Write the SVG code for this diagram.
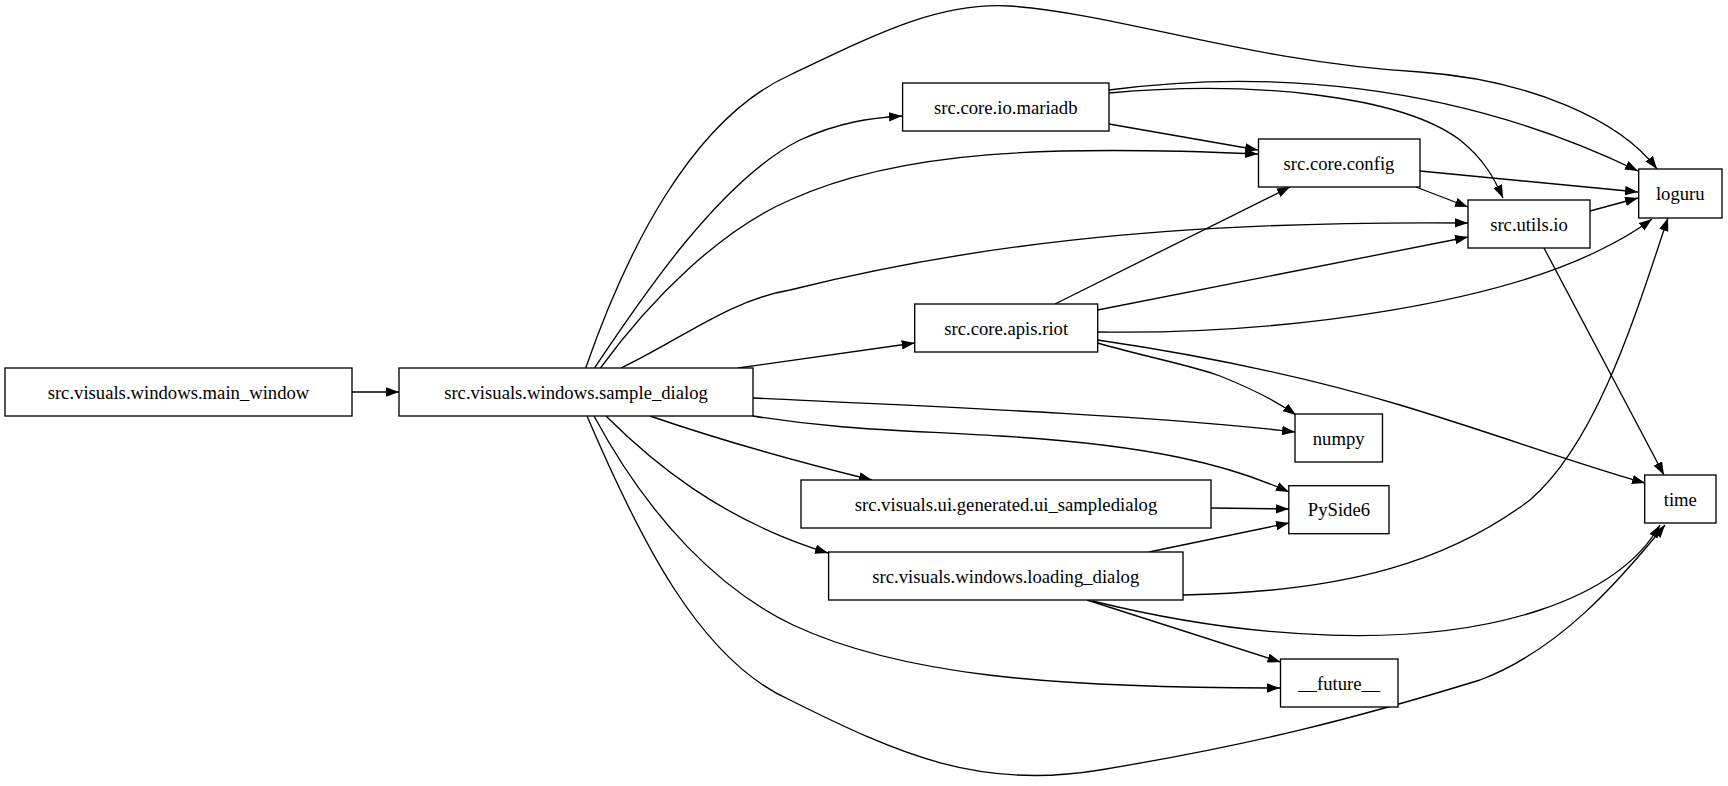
<svg xmlns="http://www.w3.org/2000/svg" width="1728" height="786" viewBox="0 0 1728 786">
<style>
.n rect{fill:#fff;stroke:#000;stroke-width:1.33}
.n text{font-family:"Liberation Serif",serif;font-size:18.67px;text-anchor:middle;dominant-baseline:central;fill:#000}
#edges path{fill:none;stroke:#000;stroke-width:1.33;marker-end:url(#a)}
</style>
<defs><marker id="a" markerUnits="userSpaceOnUse" markerWidth="14" markerHeight="10" refX="13" refY="4.7" orient="auto"><path d="M0,0 L13,4.7 L0,9.4 z" fill="#000"/></marker></defs>
<rect width="1728" height="786" fill="#fff"/>
<g id="edges">
<path d="M352,392 L399,392"/>
<path d="M585.7,368 C625,255 690,120 790,75 C880,32 940,2 1010,6 C1120,14 1250,62 1420,72 C1530,80 1620,120 1657,169"/>
<path d="M594.5,368 C640,300 720,180 800,140 C840,122 870,118 902,116"/>
<path d="M600.5,368 C650,300 720,230 790,200 C900,150 1050,145 1258,154"/>
<path d="M621,368 C680,340 730,300 790,290 C950,250 1150,220 1468,223"/>
<path d="M738,368 L914.7,343"/>
<path d="M753,398 C900,405 1150,415 1295,432"/>
<path d="M753,416 C840,430 900,430 1000,436 C1150,445 1230,465 1289,492"/>
<path d="M650,416 C720,440 790,460 872,480"/>
<path d="M606,416 C650,460 720,520 828,553"/>
<path d="M594,416 C650,520 720,590 793,625 C900,675 1050,688 1280,688"/>
<path d="M587,416 C640,540 700,660 790,700 C900,755 980,790 1100,770 C1250,745 1350,720 1480,680 C1560,650 1620,580 1665,525"/>
<path d="M1109,90 C1260,70 1450,80 1638,171"/>
<path d="M1109,93 C1250,80 1400,95 1460,140 C1485,160 1495,180 1503,198"/>
<path d="M1109,124 L1258,150"/>
<path d="M1420,171 L1638,192"/>
<path d="M1416,187 L1468,207"/>
<path d="M1590,211 L1638,198"/>
<path d="M1544,248 L1664,475"/>
<path d="M1055,304 L1290,187"/>
<path d="M1097.6,310 L1468,237"/>
<path d="M1097.6,332 C1300,335 1500,300 1600,250 C1625,238 1640,228 1652,219"/>
<path d="M1097.6,343 C1150,358 1190,365 1220,376 C1250,388 1275,400 1296,415"/>
<path d="M1097.6,340 C1200,355 1300,375 1400,405 C1490,432 1580,465 1645,483"/>
<path d="M1211,508 L1289,509"/>
<path d="M1149,552 L1289,523"/>
<path d="M1183,595 C1350,592 1450,560 1530,500 C1600,440 1640,300 1668,218"/>
<path d="M1092.6,601 C1250,640 1420,650 1540,610 C1600,590 1640,560 1660,525"/>
<path d="M1087,600 L1280.5,662"/>
</g>
<g id="main_window" class="n"><rect x="5" y="368" width="347" height="48"/><text x="178.5" y="392">src.visuals.windows.main_window</text></g>
<g id="sample_dialog" class="n"><rect x="399" y="368" width="354" height="48"/><text x="576" y="392">src.visuals.windows.sample_dialog</text></g>
<g id="mariadb" class="n"><rect x="902.6" y="83" width="206.4" height="48"/><text x="1005.8" y="107">src.core.io.mariadb</text></g>
<g id="config" class="n"><rect x="1258.5" y="139" width="161.5" height="48"/><text x="1339" y="163">src.core.config</text></g>
<g id="utils_io" class="n"><rect x="1468" y="200" width="122" height="48"/><text x="1529" y="224">src.utils.io</text></g>
<g id="loguru" class="n"><rect x="1638.7" y="169" width="83.3" height="49"/><text x="1680.3" y="193.5">loguru</text></g>
<g id="riot" class="n"><rect x="914.7" y="304" width="183" height="48"/><text x="1006.2" y="328">src.core.apis.riot</text></g>
<g id="numpy" class="n"><rect x="1295" y="414" width="87.5" height="48"/><text x="1338.7" y="438">numpy</text></g>
<g id="pyside6" class="n"><rect x="1288.8" y="485.7" width="100.2" height="48"/><text x="1338.9" y="509.7">PySide6</text></g>
<g id="time" class="n"><rect x="1644.7" y="475" width="71.3" height="48"/><text x="1680.3" y="499">time</text></g>
<g id="future" class="n"><rect x="1280.5" y="659" width="117.5" height="48"/><text x="1339.2" y="683">__future__</text></g>
<g id="ui_sampledialog" class="n"><rect x="801" y="480" width="410" height="48"/><text x="1006" y="504">src.visuals.ui.generated.ui_sampledialog</text></g>
<g id="loading_dialog" class="n"><rect x="828.6" y="552" width="354.4" height="48"/><text x="1005.8" y="576">src.visuals.windows.loading_dialog</text></g>
</svg>
